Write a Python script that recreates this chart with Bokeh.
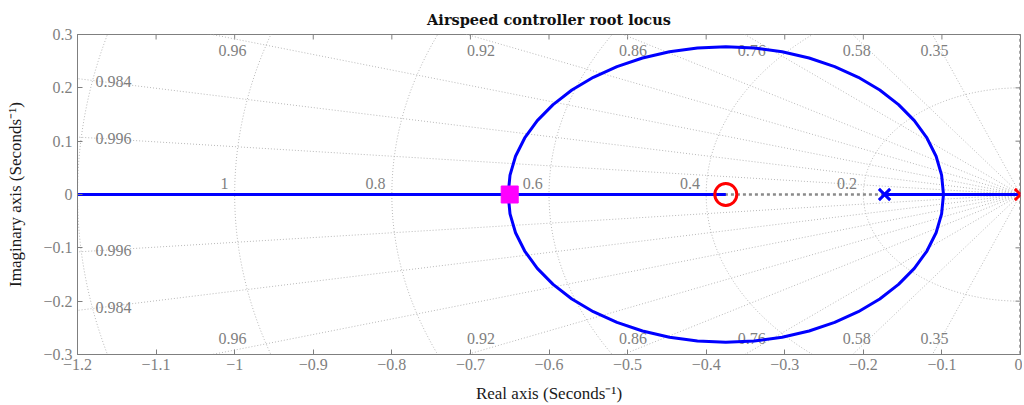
import numpy as np
from bokeh.plotting import figure
from bokeh.models import Range1d, FixedTicker
from bokeh.embed import file_html
from bokeh.resources import INLINE
from bokeh.core.properties import value

# ---------------- data ----------------
title_text = "Airspeed controller root locus"
x_label = "Real axis (Seconds\u207b\u00b9)"
y_label = "Imaginary axis (Seconds\u207b\u00b9)"

x_ticks = [-1.2, -1.1, -1.0, -0.9, -0.8, -0.7, -0.6, -0.5, -0.4, -0.3, -0.2, -0.1, 0.0]
x_tick_labels = ["\u22121.2", "\u22121.1", "\u22121", "\u22120.9", "\u22120.8", "\u22120.7",
                 "\u22120.6", "\u22120.5", "\u22120.4", "\u22120.3", "\u22120.2", "\u22120.1", "0"]
y_ticks = [-0.3, -0.2, -0.1, 0.0, 0.1, 0.2, 0.3]
y_tick_labels = ["\u22120.3", "\u22120.2", "\u22120.1", "0", "0.1", "0.2", "0.3"]

damping = [0.35, 0.58, 0.76, 0.86, 0.92, 0.96, 0.984, 0.996]
damping_labels = ["0.35", "0.58", "0.76", "0.86", "0.92", "0.96", "0.984", "0.996"]
nat_freq = [0.2, 0.4, 0.6, 0.8, 1.0, 1.2]
nat_freq_labels = ["0.2", "0.4", "0.6", "0.8", "1", "1.2"]

open_loop_zero = [-0.375]
controller_pole = [-0.173]
plant_pole = [0.0]
closed_loop_pole = [-0.65]

# real-axis locus branches
branch_left_x = [-1.2, -0.652, -0.375]
branch_right_x = [-0.173, -0.098, 0.0]
# complex branch (upper half); lower half is its conjugate
arc_x = [-0.098, -0.1004, -0.1074, -0.1191, -0.1351, -0.1552, -0.1791, -0.2064, -0.2365,
         -0.2690, -0.3033, -0.3389, -0.375, -0.4111, -0.4467, -0.4810, -0.5135, -0.5436,
         -0.5709, -0.5948, -0.6149, -0.6309, -0.6426, -0.6496, -0.652]
arc_y = [0.0, 0.0362, 0.0717, 0.1060, 0.1385, 0.1686, 0.1959, 0.2198, 0.2399,
         0.2559, 0.2676, 0.2746, 0.277, 0.2746, 0.2676, 0.2559, 0.2399, 0.2198,
         0.1959, 0.1686, 0.1385, 0.1060, 0.0717, 0.0362, 0.0]

# ---------------- style ----------------
FONT = "Liberation Serif"
GRAY = "#7f7f7f"
GRID = "#b8b8b8"

p = figure(frame_width=943, frame_height=320,
           x_range=Range1d(-1.2, 0.0), y_range=Range1d(-0.3, 0.3),
           output_backend="svg", toolbar_location=None,
           title=title_text, min_border_left=77, min_border_right=2,
           min_border_top=34, min_border_bottom=46)
p.background_fill_color = "white"
p.border_fill_color = "white"
p.outline_line_color = GRAY
p.xgrid.visible = False
p.ygrid.visible = False

p.title.text_font = "DejaVu Serif"
p.title.text_font_size = "14.5px"
p.title.text_font_style = "bold"
p.title.text_color = "#111111"
p.title.align = "center"
p.title.vertical_align = "bottom"
p.title.standoff = 13
p.title.offset = 0

def style_axis(ax, ticks, labels):
    ax.ticker = FixedTicker(ticks=ticks)
    ax.major_label_overrides = {t: l for t, l in zip(ticks, labels)}
    ax.major_tick_in = 5
    ax.major_tick_out = 0
    ax.minor_tick_line_color = None
    ax.axis_line_color = GRAY
    ax.major_tick_line_color = GRAY
    ax.major_label_text_font = FONT
    ax.major_label_text_color = GRAY
    ax.major_label_text_font_size = "16px"
    ax.axis_label_text_font = FONT
    ax.axis_label_text_font_style = "normal"
    ax.axis_label_text_font_size = "17px"
    ax.axis_label_text_color = "#1a1a1a"

style_axis(p.xaxis[0], x_ticks, x_tick_labels)
style_axis(p.yaxis[0], y_ticks, y_tick_labels)
p.xaxis[0].axis_label = x_label
p.yaxis[0].axis_label = y_label
p.xaxis[0].major_label_standoff = 4
p.xaxis[0].axis_label_standoff = 11
p.yaxis[0].major_label_standoff = 5
p.yaxis[0].axis_label_standoff = 15

# inward ticks on the top and right edges of the box (outer half clipped by the frame)
p.scatter(x_ticks, [0.3] * len(x_ticks), marker="dash", size=10, angle=np.pi / 2,
          line_color=GRAY, line_width=1)
p.scatter([0.0] * len(y_ticks), y_ticks, marker="dash", size=10,
          line_color=GRAY, line_width=1)

# ---------------- s-plane grid ----------------
theta = np.linspace(np.pi / 2, 3 * np.pi / 2, 241)
circ_xs = [list(w * np.cos(theta)) for w in nat_freq]
circ_ys = [list(w * np.sin(theta)) for w in nat_freq]
p.multi_line(circ_xs, circ_ys, line_color=GRID, line_width=1, line_dash="1 2")

R = 3.0
ray_x0, ray_y0, ray_x1, ray_y1 = [], [], [], []
for z in damping:
    s = np.sqrt(1 - z * z)
    for sign in (1, -1):
        ray_x0.append(0.0); ray_y0.append(0.0)
        ray_x1.append(-R * z); ray_y1.append(sign * R * s)
p.segment(ray_x0, ray_y0, ray_x1, ray_y1, line_color=GRID, line_width=1, line_dash="1 2")

# real / imaginary axes of the s-plane
p.segment([-1.3, 0.0], [0.0, -0.4], [0.0, 0.0], [0.0, 0.4],
          line_color="#8a8a8a", line_width=2.5, line_dash="3 3")

# damping labels
top_x, top_y, top_t, left_x, left_y, left_t = [], [], [], [], [], []
for z, t in zip(damping, damping_labels):
    s = np.sqrt(1 - z * z)
    xt = -0.2925 * z / s
    for sign in (1, -1):
        if xt > -1.2:
            top_x.append(xt); top_y.append(sign * 0.27); top_t.append(t)
        else:
            left_x.append(-1.177); left_y.append(sign * 1.17 * s / z); left_t.append(t)
p.text(top_x, top_y, text=top_t,
       text_font=value(FONT), text_font_size="16px", text_color=GRAY,
       text_align="center", text_baseline="middle")
p.text(left_x, left_y, text=left_t,
       text_font=value(FONT), text_font_size="16px", text_color=GRAY,
       text_align="left", text_baseline="middle")

# natural frequency labels
p.text([-w - 0.008 for w in nat_freq], [0.01] * len(nat_freq), text=nat_freq_labels,
       text_font=value(FONT), text_font_size="16px", text_color=GRAY,
       text_align="right", text_baseline="bottom")

# ---------------- root locus ----------------
BLUE = "#0000ff"
p.line(branch_left_x, [0.0] * len(branch_left_x), line_color=BLUE, line_width=3)
p.line(branch_right_x, [0.0] * len(branch_right_x), line_color=BLUE, line_width=3)
p.line(arc_x, arc_y, line_color=BLUE, line_width=3)
p.line(arc_x, [-v for v in arc_y], line_color=BLUE, line_width=3)

p.scatter(open_loop_zero, [0.0] * len(open_loop_zero), marker="circle", size=22,
          fill_color=None, line_color="#ff0000", line_width=3)
p.scatter(controller_pole, [0.0] * len(controller_pole), marker="x", size=16,
          line_color=BLUE, line_width=3)
p.scatter(plant_pole, [0.0] * len(plant_pole), marker="x", size=16,
          line_color="#ff0000", line_width=3)
p.scatter(closed_loop_pole, [0.0] * len(closed_loop_pole), marker="square", size=17,
          fill_color="#ff00ff", line_color="#ff00ff", line_width=1)

open("out.html", "w").write(file_html(p, INLINE))
